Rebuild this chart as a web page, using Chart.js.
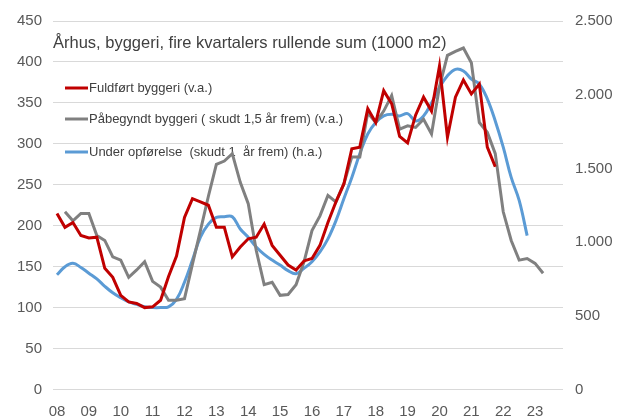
<!DOCTYPE html>
<html>
<head>
<meta charset="utf-8">
<script src="https://cdn.jsdelivr.net/npm/chart.js@4.4.1/dist/chart.umd.min.js"></script>
<style>
  html, body { margin: 0; padding: 0; background: #fff; }
  #wrap { position: relative; width: 623px; height: 417px; }
</style>
</head>
<body>
<div id="wrap"><canvas id="myChart" width="623" height="417"></canvas></div>
<script>
// tick labels on the x axis (one per year, first quarter)
const years = ['08','09','10','11','12','13','14','15','16','17','18','19','20','21','22','23'];
const quarters = ['K1','K2','K3','K4'];

// Fuldført byggeri (v.a.), 1000 m2, 2008K1 - 2021K4
const fuldfoert = [
  215, 198, 204, 188,
  185, 186, 148, 137,
  115, 107, 105, 100,
  101, 109, 138, 163,
  210, 233, 229, 225,
  198, 198, 162, 174,
  184, 186, 202, 176,
  164, 152, 146, 157,
  160, 176, 204, 229,
  251, 294, 296, 343,
  326, 365, 349, 309,
  301, 335, 357, 340,
  395, 308, 357, 378,
  361, 373, 296, 272
];

// Påbegyndt byggeri (skudt 1,5 år frem) (v.a.), 2008K2 - 2023K2
const paabegyndt = [
  null, 217, 206, 215,
  215, 188, 182, 162,
  158, 137, 146, 156,
  132, 125, 109, 109,
  111, 153, 194, 236,
  275, 279, 288, 253,
  227, 170, 128, 131,
  115, 116, 128, 156,
  194, 212, 237, 229,
  251, 284, 284, 338,
  326, 340, 359, 318,
  322, 320, 330, 312,
  370, 408, 413, 417,
  399, 326, 314, 288,
  217, 182, 158, 160,
  154, 142
];

// Under opførelse (skudt 1 år frem) (h.a.), 2008K1 - 2022K4
const underOpfoerelse = [
  778, 833, 856, 828,
  789, 750, 700, 656,
  622, 594, 578, 561,
  556, 556, 561, 611,
  728, 878, 1033, 1122,
  1167, 1172, 1172, 1089,
  1033, 967, 917, 878,
  844, 806, 786, 822,
  867, 933, 1022, 1144,
  1294, 1439, 1600, 1733,
  1811, 1856, 1867, 1856,
  1872, 1822, 1856, 1944,
  2050, 2128, 2172, 2161,
  2106, 2072, 1972, 1822,
  1644, 1439, 1283, 1044
];

const seriesNames = [
  'Fuldført byggeri (v.a.)',
  'Påbegyndt byggeri ( skudt 1,5 år frem) (v.a.)',
  'Under opførelse  (skudt 1  år frem) (h.a.)'
];
const titleText = 'Århus, byggeri, fire kvartalers rullende sum (1000 m2)';

const categories = [];
years.forEach(y => quarters.forEach(q => categories.push(y + q)));

const colors = ['#C00000', '#808080', '#5B9BD5'];
const fontFam = "'Liberation Sans', Arial, sans-serif";

// title + legend drawn inside the plot, under the lines
const overlayPlugin = {
    id: 'overlay',
    beforeDatasetsDraw(chart) {
        const ctx = chart.ctx;
        ctx.save();
        ctx.fillStyle = '#404040';
        ctx.textBaseline = 'middle';
        ctx.font = '16.5px ' + fontFam;
        ctx.fillText(titleText, 53, 43);

        const rows = [88, 119, 152];
        ctx.font = '13px ' + fontFam;
        rows.forEach((y, i) => {
            ctx.strokeStyle = colors[i];
            ctx.lineWidth = 3;
            ctx.beginPath();
            ctx.moveTo(65, y);
            ctx.lineTo(88, y);
            ctx.stroke();
            ctx.fillStyle = '#404040';
            ctx.fillText(seriesNames[i], 89, y);
        });
        ctx.restore();
    }
};

const ctx = document.getElementById('myChart').getContext('2d');
const myChart = new Chart(ctx, {
    type: 'line',
    data: {
        labels: categories,
        datasets: [
            {
                label: seriesNames[0],
                data: fuldfoert,
                borderColor: colors[0],
                borderWidth: 3,
                pointRadius: 0,
                tension: 0,
                yAxisID: 'y'
            },
            {
                label: seriesNames[1],
                data: paabegyndt,
                borderColor: colors[1],
                borderWidth: 3,
                pointRadius: 0,
                tension: 0,
                yAxisID: 'y'
            },
            {
                label: seriesNames[2],
                data: underOpfoerelse,
                borderColor: colors[2],
                borderWidth: 3,
                pointRadius: 0,
                tension: 0.4,
                yAxisID: 'y2'
            }
        ]
    },
    options: {
        responsive: false,
        animation: false,
        layout: { padding: { top: 20, bottom: 0, left: 0, right: 0 } },
        plugins: {
            legend: { display: false },
            tooltip: { enabled: false }
        },
        scales: {
            x: {
                offset: true,
                grid: { display: false },
                border: { display: false },
                ticks: {
                    autoSkip: false,
                    maxRotation: 0,
                    padding: 5,
                    color: '#595959',
                    font: { family: fontFam, size: 15 },
                    callback: function(val, idx) {
                        return idx % 4 === 0 ? years[idx / 4] : '';
                    }
                },
                afterFit: (scale) => { scale.height = 27.5; }
            },
            y: {
                position: 'left',
                min: 0,
                max: 450,
                grid: { color: '#d9d9d9', lineWidth: 1, drawTicks: false },
                border: { display: false },
                ticks: {
                    stepSize: 50,
                    padding: 11,
                    color: '#595959',
                    font: { family: fontFam, size: 15 }
                },
                afterFit: (scale) => { scale.width = 53; }
            },
            y2: {
                position: 'right',
                min: 0,
                max: 2500,
                grid: { drawOnChartArea: false, drawTicks: false },
                border: { display: false },
                ticks: {
                    stepSize: 500,
                    padding: 12,
                    color: '#595959',
                    font: { family: fontFam, size: 15 },
                    callback: (v) => String(v).replace(/\B(?=(\d{3})+(?!\d))/g, '.')
                },
                afterFit: (scale) => { scale.width = 60; }
            }
        }
    },
    plugins: [overlayPlugin]
});
</script>
</body>
</html>
